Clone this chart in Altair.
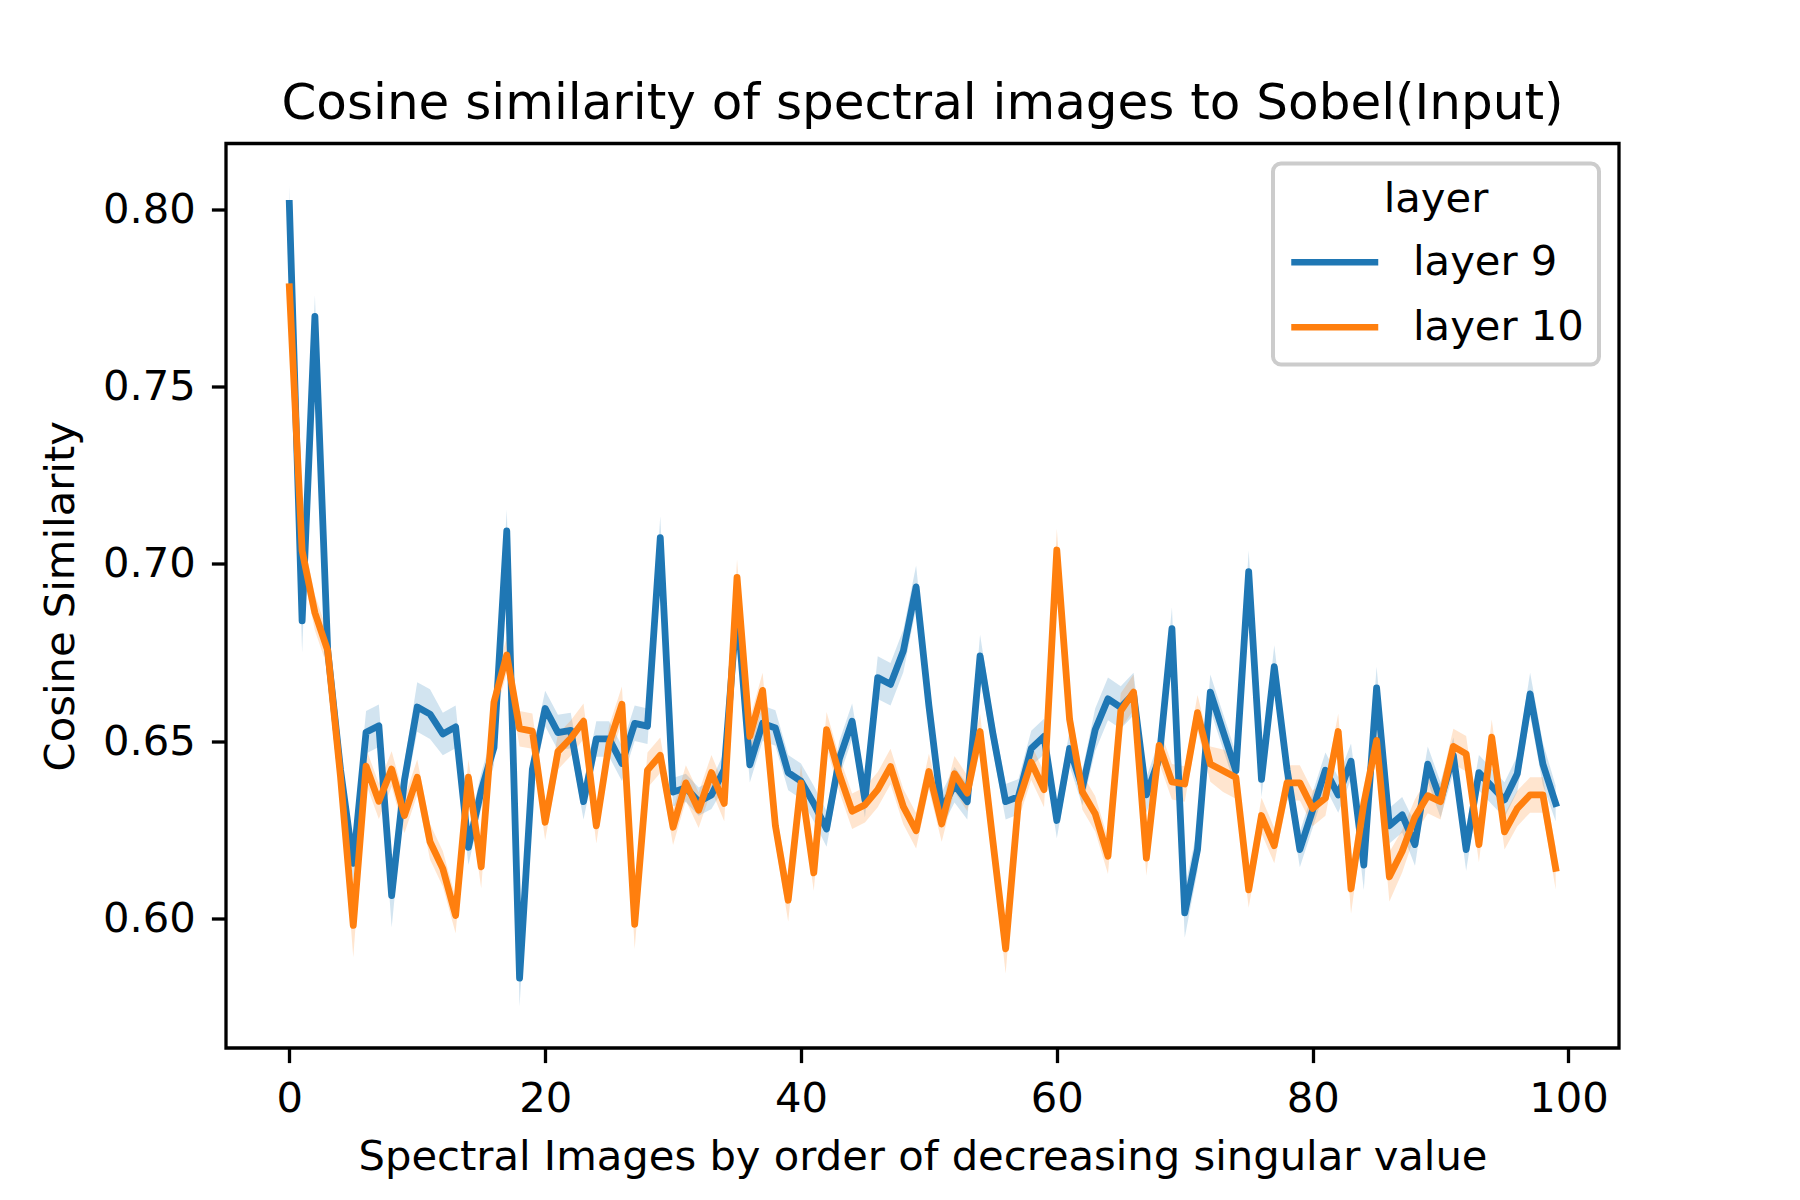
import altair as alt
import pandas as pd

index = list(range(100))

layer9 = [0.8017, 0.6839, 0.7698, 0.6756, 0.642, 0.6155, 0.6525, 0.6543, 0.6064, 0.639,
          0.6596, 0.6576, 0.652, 0.654, 0.62, 0.636, 0.6482, 0.7093, 0.5831, 0.642,
          0.6592, 0.6524, 0.653, 0.6329, 0.6506, 0.6506, 0.6437, 0.655, 0.6542, 0.7074,
          0.6356, 0.6368, 0.6329, 0.6348, 0.642, 0.688, 0.6433, 0.655, 0.6537, 0.6411,
          0.6387, 0.6324, 0.6252, 0.645, 0.6556, 0.6334, 0.6679, 0.666, 0.6754, 0.6935,
          0.66, 0.6305, 0.6377, 0.6329, 0.674, 0.6522, 0.6329, 0.6343, 0.6479, 0.6513,
          0.6276, 0.6479, 0.6368, 0.6532, 0.6619, 0.6595, 0.6633, 0.6348, 0.645, 0.6817,
          0.6015, 0.6194, 0.6638, 0.6527, 0.6416, 0.6978, 0.6392, 0.671, 0.642, 0.6194,
          0.6305, 0.6418, 0.6348, 0.6443, 0.615, 0.665, 0.6261, 0.6292, 0.6208, 0.6435,
          0.6334, 0.646, 0.6194, 0.6411, 0.6372, 0.6334, 0.6408, 0.6633, 0.6435, 0.6324]

layer10 = [0.7782, 0.7037, 0.6862, 0.6756, 0.640, 0.598, 0.6429, 0.633, 0.6421, 0.629,
           0.6398, 0.6216, 0.614, 0.6008, 0.6398, 0.6145, 0.661, 0.6743, 0.6535, 0.6528,
           0.6271, 0.647, 0.6508, 0.6556, 0.6261, 0.6493, 0.6604, 0.5983, 0.6418, 0.646,
           0.6257, 0.6382, 0.6305, 0.6411, 0.6324, 0.6962, 0.6513, 0.6643, 0.6261, 0.6051,
           0.6382, 0.6128, 0.6532, 0.6406, 0.6302, 0.632, 0.6363, 0.6428, 0.6315, 0.6247,
           0.6414, 0.6266, 0.6408, 0.6353, 0.6527, 0.6218, 0.5914, 0.6329, 0.644, 0.6363,
           0.7039, 0.6561, 0.6356, 0.6295, 0.6175, 0.6585, 0.6638, 0.617, 0.6488, 0.6385,
           0.6379, 0.658, 0.6435, 0.6416, 0.6397, 0.608, 0.629, 0.6205, 0.6382, 0.6382,
           0.631, 0.6339, 0.6527, 0.6083, 0.6324, 0.6502, 0.6117, 0.6189, 0.6286, 0.6346,
           0.6329, 0.6485, 0.6464, 0.6208, 0.6511, 0.6244, 0.631, 0.6348, 0.6348, 0.6141]

# half-width of the confidence band
layer9_ci = [0.005, 0.009, 0.006, 0.005, 0.005, 0.005, 0.006, 0.006, 0.009, 0.005,
             0.007, 0.007, 0.006, 0.006, 0.005, 0.005, 0.005, 0.006, 0.008, 0.005,
             0.005, 0.005, 0.005, 0.005, 0.005, 0.005, 0.005, 0.005, 0.005, 0.006,
             0.004, 0.004, 0.004, 0.004, 0.005, 0.005, 0.005, 0.005, 0.005, 0.005,
             0.005, 0.005, 0.005, 0.005, 0.005, 0.005, 0.006, 0.006, 0.006, 0.006,
             0.005, 0.005, 0.005, 0.005, 0.006, 0.005, 0.005, 0.005, 0.005, 0.005,
             0.005, 0.005, 0.005, 0.006, 0.006, 0.006, 0.006, 0.005, 0.005, 0.006,
             0.007, 0.006, 0.005, 0.005, 0.005, 0.006, 0.005, 0.006, 0.005, 0.005,
             0.005, 0.005, 0.005, 0.005, 0.007, 0.006, 0.005, 0.005, 0.006, 0.005,
             0.005, 0.005, 0.006, 0.005, 0.005, 0.005, 0.005, 0.006, 0.006, 0.005]

layer10_ci = [0.005, 0.005, 0.005, 0.005, 0.005, 0.009, 0.005, 0.005, 0.005, 0.005,
              0.005, 0.005, 0.005, 0.005, 0.005, 0.006, 0.005, 0.005, 0.005, 0.005,
              0.005, 0.005, 0.005, 0.005, 0.005, 0.005, 0.005, 0.007, 0.005, 0.005,
              0.005, 0.005, 0.005, 0.005, 0.005, 0.005, 0.005, 0.005, 0.005, 0.006,
              0.005, 0.005, 0.005, 0.005, 0.005, 0.005, 0.005, 0.005, 0.005, 0.005,
              0.005, 0.005, 0.005, 0.005, 0.005, 0.005, 0.007, 0.005, 0.005, 0.005,
              0.006, 0.005, 0.005, 0.005, 0.005, 0.005, 0.005, 0.005, 0.005, 0.005,
              0.005, 0.005, 0.005, 0.006, 0.006, 0.005, 0.005, 0.005, 0.005, 0.005,
              0.005, 0.005, 0.005, 0.007, 0.005, 0.005, 0.007, 0.006, 0.005, 0.005,
              0.005, 0.005, 0.005, 0.005, 0.005, 0.005, 0.005, 0.005, 0.005, 0.006]

series_names = ["layer 9", "layer 10"]
series_colors = ["#1f77b4", "#ff7f0e"]
x_ticks = [0, 20, 40, 60, 80, 100]
y_ticks = [0.60, 0.65, 0.70, 0.75, 0.80]

rows = []
for name, vals, ci in [("layer 9", layer9, layer9_ci), ("layer 10", layer10, layer10_ci)]:
    for i, v, c in zip(index, vals, ci):
        rows.append({"idx": i, "layer": name, "value": v, "lo": v - c, "hi": v + c})
df = pd.DataFrame(rows)

FONT = "DejaVu Sans"
FS = 41.7

xscale = alt.Scale(domain=[-4.95, 103.95], nice=False, zero=False)
yscale = alt.Scale(domain=[0.5634, 0.8186], nice=False, zero=False)
cscale = alt.Scale(domain=series_names, range=series_colors)

x_enc = alt.X("idx:Q", scale=xscale,
              axis=alt.Axis(values=x_ticks, format="d",
                            title="Spectral Images by order of decreasing singular value"))
y_enc = alt.Y("value:Q", scale=yscale,
              axis=alt.Axis(values=y_ticks, format=".2f", title="Cosine Similarity"))

base = alt.Chart(df)

layers = []
for name, col in zip(series_names, series_colors):
    layers.append(
        base.transform_filter(alt.datum.layer == name)
        .mark_area(opacity=0.2, color=col)
        .encode(x=x_enc, y=alt.Y("lo:Q", scale=yscale), y2="hi:Q")
    )
for name in series_names:
    layers.append(
        base.transform_filter(alt.datum.layer == name)
        .mark_line(strokeWidth=6.8, strokeJoin="round", strokeCap="square")
        .encode(
            x=x_enc,
            y=y_enc,
            color=alt.Color("layer:N", scale=cscale,
                            legend=alt.Legend(title="layer")),
        )
    )

chart = alt.layer(*layers).properties(
    width=1393,
    height=904.5,
    autosize=alt.AutoSizeParams(type="none"),
    padding={"left": 218, "top": 135.5, "right": 173, "bottom": 144},
    title=alt.Title("Cosine similarity of spectral images to Sobel(Input)",
                    font=FONT, fontSize=50, fontWeight="normal", color="black",
                    offset=15, anchor="middle"),
).configure_view(
    stroke="black", strokeWidth=3.3
).configure_axis(
    grid=False, domain=False,
    tickColor="black", tickWidth=3.3, tickSize=14.6,
    labelFont=FONT, labelFontSize=FS, labelColor="black",
    titleFont=FONT, titleFontSize=FS, titleFontWeight="normal", titleColor="black",
).configure_axisX(
    labelPadding=16, titlePadding=16,
).configure_axisY(
    labelPadding=16, titlePadding=20,
).configure_legend(
    orient="top-right", offset=20,
    strokeColor="#cccccc", strokeWidth=4, cornerRadius=8, fillColor="white",
    padding=15,
    titleFont=FONT, titleFontSize=FS, titleFontWeight="normal", titleColor="black",
    titleAnchor="middle", titleAlign="center", titlePadding=17,
    labelFont=FONT, labelFontSize=FS, labelColor="black", labelLimit=500,
    symbolType="M-1,0H3", symbolSize=1892, symbolStrokeWidth=6.5,
    labelOffset=75, rowPadding=18,
)

chart.save("out.html", embed_options={"renderer": "svg", "actions": False})
